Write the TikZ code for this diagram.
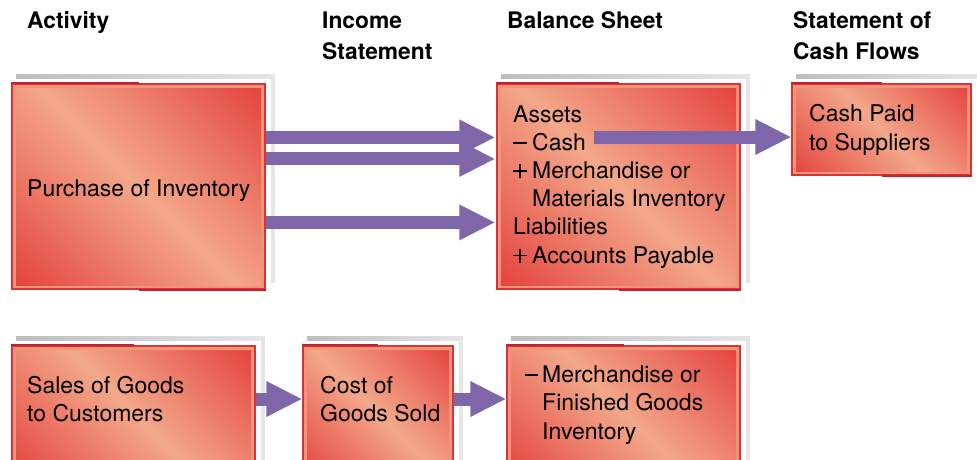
\documentclass[tikz,border=0pt]{standalone}
\usepackage{fontspec}
\setmainfont{TeX Gyre Heros}
\usetikzlibrary{arrows.meta,fit}
\definecolor{boxred}{RGB}{225,45,45}
\definecolor{boxlight}{RGB}{243,168,138}
\definecolor{framepink}{RGB}{239,150,122}
\definecolor{edgered}{RGB}{214,52,58}
\definecolor{stripred}{RGB}{200,30,45}
\definecolor{flowpurple}{RGB}{127,102,168}
\definecolor{shadowdark}{RGB}{190,190,190}
\definecolor{shadowlight}{RGB}{230,230,230}
\pgfdeclarehorizontalshading{diagglow}{100bp}{color(0bp)=(boxred); color(8bp)=(boxred); color(50bp)=(boxlight); color(92bp)=(boxred); color(100bp)=(boxred)}
\tikzset{
  acctbox/.style={draw=edgered, line width=1.2pt, fill=framepink, inner sep=0pt,
    path picture={\shade[shading=diagglow, shading angle=45]
      ([shift={(4pt,-4pt)}]path picture bounding box.north west) rectangle
      ([shift={(-4pt,4pt)}]path picture bounding box.south east);}},
  edgestrip/.style={draw=stripred, line width=2pt},
  boxtext/.style={inner sep=0pt, align=left, font=\fontsize{23}{28.2}\selectfont},
  colhead/.style={inner sep=0pt, align=left, font=\fontsize{22.8}{31}\selectfont\bfseries},
  flow/.style={draw=flowpurple, line width=13pt, -{Triangle[length=36pt,width=33pt,fill=flowpurple]}},
}
% box with its grey offset frame: name, x0, y0, x1, y1
\newcommand{\ledger}[5]{%
  \fill[left color=shadowdark, right color=shadowlight] (#2+4,#3-10) rectangle (#4+10,#3-6);
  \fill[shadowlight] (#4+6,#3-10) rectangle (#4+10,#5-6);
  \node[acctbox, fit={(#2,#3) (#4,#5)}] (#1) {};
  \draw[edgestrip] (#1.north west) -- (#1.north);
  \draw[edgestrip] (#1.south) -- (#1.south east);
}
\newcommand{\minussign}{\rule[6.6pt]{14pt}{1.8pt}}
\newcommand{\plussign}{\rlap{\rule[6.6pt]{14pt}{1.8pt}}\hspace{6.1pt}\rule[0.5pt]{1.8pt}{14pt}\hspace{6.1pt}}
\newcommand{\sgn}[1]{\makebox[19pt][l]{#1}}

\begin{document}
\begin{tikzpicture}[x=1pt, y=-1pt]
    \useasboundingbox (0,0) rectangle (977,459);
    \clip (0,0) rectangle (977,459);
    % column heads (base = last line)
    \node[colhead, anchor=base west] (hact) at (27,28) {Activity};
    \node[colhead, anchor=base west] (hinc) at (322,59) {Income\\Statement};
    \node[colhead, anchor=base west] (hbal) at (507,28) {Balance Sheet};
    \node[colhead, anchor=base west] (hcash) at (793,59) {Statement of\\Cash Flows};
    % boxes
    \ledger{purch}{12}{84}{265}{289}
    \ledger{bal}{497}{84}{740}{289}
    \ledger{paid}{792}{84}{971}{175}
    \ledger{sales}{12}{346}{255}{480}
    \ledger{cogs}{303}{346}{453}{480}
    \ledger{finv}{507}{346}{740}{480}
    % texts
    \node[boxtext, anchor=base west] (purchtxt) at (27,196) {Purchase of Inventory};
    \node[boxtext, anchor=base west] (baltxt) at (513,263) {Assets\\\sgn{\minussign}Cash\\\sgn{\plussign}Merchandise or\\\sgn{}Materials Inventory\\Liabilities\\\sgn{\plussign}Accounts Payable};
    \node[boxtext, anchor=base west] (paidtxt) at (809,150) {Cash Paid\\to Suppliers};
    \node[boxtext, anchor=base west] (salestxt) at (27,421.5) {Sales of Goods\\to Customers};
    \node[boxtext, anchor=base west] (cogstxt) at (320,421.5) {Cost of\\Goods Sold};
    \node[boxtext, anchor=base west] (finvtxt) at (525,439) {\makebox[17pt][l]{\rule[6.6pt]{13pt}{1.8pt}}Merchandise or\\\makebox[17pt][l]{}Finished Goods\\\makebox[17pt][l]{}Inventory};
    % flows
    \coordinate (cashout) at (594,137);
    \coordinate (lowrow) at (0,399);
    \draw[flow] ([yshift=-54pt]purch.north east) -- ([yshift=-54pt,xshift=-1pt]bal.north west);
    \draw[flow] ([yshift=-75.5pt]purch.north east) -- ([yshift=-75.5pt,xshift=-1pt]bal.north west);
    \draw[flow] ([yshift=-139pt]purch.north east) -- ([yshift=-139pt,xshift=-1pt]bal.north west);
    \draw[flow] (cashout) -- (paid.west |- cashout);
    \draw[flow] (sales.east |- lowrow) -- (cogs.west |- lowrow);
    \draw[flow] (cogs.east |- lowrow) -- (finv.west |- lowrow);
  \end{tikzpicture}
\end{document}
